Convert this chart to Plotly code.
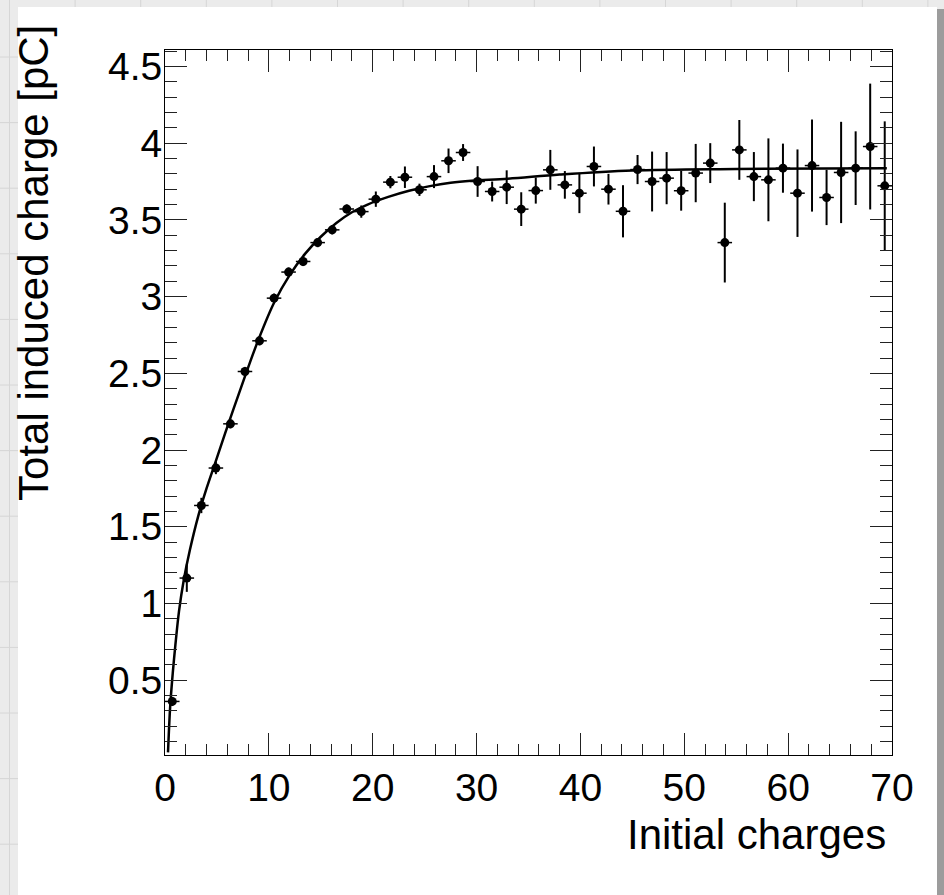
import plotly.graph_objects as go

# ---- data ----
x_vals = [0.7, 2.1, 3.5, 4.9, 6.3, 7.7, 9.1, 10.5, 11.9, 13.3,
          14.7, 16.1, 17.5, 18.9, 20.3, 21.7, 23.1, 24.5, 25.9, 27.3,
          28.7, 30.1, 31.5, 32.9, 34.3, 35.7, 37.1, 38.5, 39.9, 41.3,
          42.7, 44.1, 45.5, 46.9, 48.3, 49.7, 51.1, 52.5, 53.9, 55.3,
          56.7, 58.1, 59.5, 60.9, 62.3, 63.7, 65.1, 66.5, 67.9, 69.3]
y_vals = [0.362, 1.166, 1.639, 1.883, 2.171, 2.512, 2.712, 2.99, 3.16, 3.229,
          3.352, 3.435, 3.571, 3.554, 3.635, 3.746, 3.778, 3.696, 3.782, 3.885,
          3.939, 3.75, 3.685, 3.713, 3.57, 3.691, 3.826, 3.728, 3.674, 3.848,
          3.70, 3.556, 3.828, 3.75, 3.772, 3.69, 3.805, 3.87, 3.352, 3.956,
          3.782, 3.761, 3.837, 3.674, 3.854, 3.646, 3.809, 3.837, 3.978, 3.722]
y_err = [0.03, 0.09, 0.05, 0.04, 0.03, 0.03, 0.03, 0.03, 0.03, 0.03,
         0.03, 0.03, 0.03, 0.04, 0.05, 0.04, 0.07, 0.04, 0.075, 0.08,
         0.055, 0.10, 0.065, 0.11, 0.11, 0.085, 0.13, 0.09, 0.13, 0.13,
         0.10, 0.17, 0.095, 0.195, 0.17, 0.13, 0.19, 0.13, 0.26, 0.195,
         0.16, 0.27, 0.16, 0.285, 0.30, 0.18, 0.33, 0.24, 0.41, 0.42]
x_err = [0.7] * len(x_vals)

fit_x = [0.29, 0.5, 0.75, 1.0, 1.35, 1.8, 2.4, 3.2, 4.0, 4.9,
         6.3, 7.7, 9.0, 10.5, 12.0, 13.5, 15.0, 16.5, 18.0, 19.5,
         21.5, 23.5, 25.5, 27.5, 29.5, 33.0, 38.0, 45.0, 55.0, 69.5]
fit_y = [0.03, 0.33, 0.55, 0.73, 0.95, 1.15, 1.35, 1.57, 1.75, 1.93,
         2.21, 2.48, 2.72, 2.96, 3.14, 3.28, 3.39, 3.48, 3.55, 3.60,
         3.65, 3.69, 3.72, 3.742, 3.755, 3.768, 3.795, 3.822, 3.832, 3.837]

x_tickvals = [0, 10, 20, 30, 40, 50, 60, 70]
x_ticktext = ["0", "10", "20", "30", "40", "50", "60", "70"]
y_tickvals = [0.5, 1, 1.5, 2, 2.5, 3, 3.5, 4, 4.5]
y_ticktext = ["0.5", "1", "1.5", "2", "2.5", "3", "3.5", "4", "4.5"]

x_title = "Initial charges"
y_title = "Total induced charge [pC]"

# ---- geometry (pixels) ----
W, H = 944, 895
L, R, T, B = 165, 52, 50, 140
PW, PH = W - L - R, H - T - B


def px(p):
    return (p - L) / PW


def py(p):
    return (H - B - p) / PH


FONT = "Liberation Sans, Arial, Helvetica, sans-serif"

fig = go.Figure()
fig.add_trace(go.Scatter(
    x=x_vals, y=y_vals, mode="markers",
    marker=dict(symbol="circle", size=9, color="black"),
    error_y=dict(type="data", array=y_err, thickness=2, width=0, color="black"),
    error_x=dict(type="data", array=x_err, thickness=1.5, width=0, color="black"),
    showlegend=False, hoverinfo="x+y"))
fig.add_trace(go.Scatter(
    x=fit_x, y=fit_y, mode="lines",
    line=dict(color="black", width=2.5, shape="spline", smoothing=1.0),
    showlegend=False, hoverinfo="skip"))

shapes = []
# background grid pattern (paper texture)
gx = 9.5
while gx < W:
    shapes.append(dict(type="line", xref="paper", yref="paper",
                       x0=px(gx), x1=px(gx), y0=py(0), y1=py(H),
                       line=dict(color="#d6d6d6", width=1), layer="below"))
    gx += 65.6
gy = 57
while gy < H:
    shapes.append(dict(type="line", xref="paper", yref="paper",
                       x0=px(0), x1=px(W), y0=py(gy), y1=py(gy),
                       line=dict(color="#d6d6d6", width=1), layer="below"))
    gy += 65.6
# shadow + white panel
shapes.append(dict(type="rect", xref="paper", yref="paper",
                   x0=px(936), x1=px(W), y0=py(H), y1=py(9),
                   fillcolor="#9c9c9c", line=dict(width=0), layer="below"))
shapes.append(dict(type="rect", xref="paper", yref="paper",
                   x0=px(18), x1=px(937), y0=py(H), y1=py(7),
                   fillcolor="white", line=dict(width=0), layer="below"))

axis_common = dict(
    showline=True, linecolor="black", linewidth=1, mirror="ticks",
    ticks="inside", ticklen=22, tickwidth=1, tickcolor="#222",
    showgrid=False, zeroline=False,
    tickfont=dict(family=FONT, size=39, color="black"),
)

fig.update_layout(
    width=W, height=H,
    margin=dict(l=L, r=R, t=T, b=B, pad=0),
    paper_bgcolor="#ebebeb", plot_bgcolor="white",
    shapes=shapes,
    xaxis=dict(range=[0, 70], tickmode="array", tickvals=x_tickvals,
               ticktext=x_ticktext, ticklabelstandoff=-2,
               minor=dict(dtick=2, tick0=0, ticks="inside", ticklen=11,
                          tickwidth=1, tickcolor="#222"),
               **axis_common),
    yaxis=dict(range=[0.013, 4.607], tickmode="array", tickvals=y_tickvals,
               ticktext=y_ticktext, ticklabelstandoff=-6,
               minor=dict(dtick=0.1, tick0=0, ticks="inside", ticklen=12,
                          tickwidth=1, tickcolor="#222"),
               **axis_common),
    annotations=[
        dict(text=x_title, xref="paper", yref="paper",
             x=px(888), y=py(834), xanchor="right", yanchor="middle",
             showarrow=False, font=dict(family=FONT, size=42, color="black")),
        dict(text=y_title, xref="paper", yref="paper", textangle=-90,
             x=px(33), y=py(263), xanchor="center", yanchor="middle",
             showarrow=False, font=dict(family=FONT, size=42, color="black")),
    ],
)

fig.write_html(
    "out.html",
    config={"displayModeBar": False},
    post_script="document.body.style.margin='0';document.body.style.overflow='hidden';",
)
